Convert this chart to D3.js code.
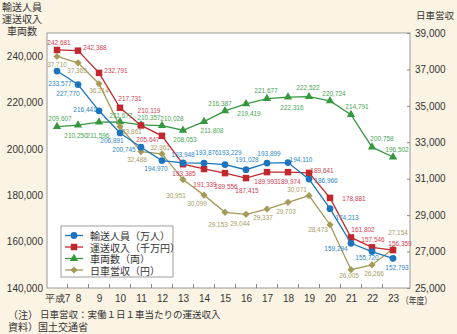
<!DOCTYPE html>
<html>
<head>
<meta charset="utf-8">
<script src="https://cdn.jsdelivr.net/npm/d3@7"></script>
<style>
  body { margin: 0; background: #fbf3e3; }
  svg { display: block; }
  text { font-family: "Liberation Sans", Arial, sans-serif; fill: #333; }
  .jp { font-family: "Noto Sans CJK JP", sans-serif; }
</style>
</head>
<body>
<div class="chart"></div>
<script>
// 年度（平成）
const years = [7, 8, 9, 10, 11, 12, 13, 14, 15, 16, 17, 18, 19, 20, 21, 22, 23];
const xLabels = ["平成7", "8", "9", "10", "11", "12", "13", "14", "15", "16", "17", "18", "19", "20", "21", "22", "23"];

// 輸送人員（万人）
const passengers = [233577, 227770, 216441, 206891, 200745, 194970, 193948, 193876, 193229, 191028, 193899, 194110, 186966, 174213, 159294, 155720, 152793];
// 運送収入（千万円）
const revenue = [242681, 242388, 232791, 217731, 210119, 205647, 193385, 191339, 189556, 187415, 189993, 189974, 189641, 178881, 161802, 157546, 156359];
// 車両数（両）
const vehicles = [209607, 210250, 211596, 211677, 210357, 210028, 208053, 211808, 216387, 219419, 221677, 222316, 222522, 220724, 214791, 200758, 196502];
// 日車営収（円）
const dailyRevenue = [37710, 37363, 36214, 33861, 32488, 32361, 30951, 30099, 29153, 29044, 29337, 29703, 30071, 28473, 26005, 26266, 27154];

const leftTicks = [140000, 160000, 180000, 200000, 220000, 240000];
const rightTicks = [25000, 27000, 29000, 31000, 33000, 35000, 37000, 39000];

// label offsets (dx, dy from point to label centre)
const offBlue = [[3,12],[-10,9],[-14,-1],[-8,7],[-17,2],[-6,8],[0,-9],[3,-11],[5,-12],[1,-10],[2,-10],[13,-3],[17,1],[17,9],[-15,5],[-5,6],[4,9]];
const offRed = [[2,-8],[17,-3],[17,-3],[10,-9],[8,-15],[-14,4],[1,9],[1,15],[1,13],[1,12],[-1,9],[1,9],[13,-3],[24,0],[12,-8],[1,-8],[7,-7]];
const offGreen = [[3,-8],[-2,10],[-1,13],[1,-7],[8,-8],[10,-7],[2,9],[8,9],[-5,-8],[3,9],[-1,-8],[4,10],[-1,-9],[4,-8],[6,-8],[10,-9],[4,-8]];
const offOlive = [[0,8],[-1,8],[0,7],[12,5],[-4,8],[-2,-7],[-7,16],[-7,8],[-7,12],[-6,9],[-4,8],[-2,9],[-12,-6],[-12,5],[-2,6],[2,8],[5,-16]];

const W = 457, H = 334;
const plot = {left: 47, right: 410, top: 33, bottom: 288};

const svg = d3.select(".chart").append("svg")
    .attr("width", W).attr("height", H)
    .attr("viewBox", [0, 0, W, H]);

svg.append("rect").attr("width", W).attr("height", H).attr("fill", "#fbf3e3");
svg.append("rect")
    .attr("x", plot.left).attr("y", plot.top)
    .attr("width", plot.right - plot.left).attr("height", plot.bottom - plot.top)
    .attr("fill", "#fff").attr("stroke", "#999").attr("stroke-width", 1);

const x = d3.scalePoint().domain(years).range([46.5, 403.5]).padding(0.5);
const xb = d3.scaleBand().domain(years).range([46.5, 403.5]);
const yL = d3.scaleLinear().domain([140000, 250000]).range([plot.bottom, plot.top]);
const yR = d3.scaleLinear().domain([25000, 39000]).range([plot.bottom, plot.top]);

// axes
const gx = svg.append("g")
    .attr("transform", `translate(0,${plot.bottom})`)
    .call(d3.axisBottom(x).tickSize(0).tickPadding(7).tickFormat((d, i) => xLabels[i]));
gx.select(".domain").remove();
gx.selectAll("text").attr("font-size", 10).attr("fill", "#333")
    .attr("font-family", (d, i) => i === 0 ? "Noto Sans CJK JP" : null);

svg.append("g").selectAll("line")
    .data(years.slice(1))
    .join("line")
    .attr("x1", d => xb(d)).attr("x2", d => xb(d))
    .attr("y1", plot.bottom - 4).attr("y2", plot.bottom)
    .attr("stroke", "#888");

svg.append("text").attr("class", "jp")
    .attr("x", 401).attr("y", 299.5)
    .attr("dominant-baseline", "central")
    .attr("font-size", 9.5)
    .attr("textLength", 31).attr("lengthAdjust", "spacingAndGlyphs")
    .text("（年度）");

const gl = svg.append("g")
    .attr("transform", `translate(${plot.left},0)`)
    .call(d3.axisLeft(yL).tickValues(leftTicks).tickFormat(d3.format(",")).tickSize(0).tickPadding(4));
gl.select(".domain").remove();
gl.selectAll("text").attr("font-size", 10).attr("fill", "#333");

const gr = svg.append("g")
    .attr("transform", `translate(${plot.right},0)`)
    .call(d3.axisRight(yR).tickValues(rightTicks).tickFormat(d3.format(",")).tickSizeInner(-3).tickSizeOuter(0).tickPadding(5));
gr.select(".domain").remove();
gr.selectAll("line").attr("stroke", "#888");
gr.selectAll("text").attr("font-size", 10).attr("fill", "#333");

// axis titles
svg.append("text").attr("class", "jp")
    .attr("x", 22).attr("text-anchor", "middle").attr("font-size", 10)
    .selectAll("tspan")
    .data(["輸送人員", "運送収入", "車両数"])
    .join("tspan")
    .attr("x", 22).attr("y", (d, i) => 10.5 + i * 12)
    .text(d => d);
svg.append("text").attr("class", "jp")
    .attr("x", 416).attr("y", 18.5).attr("font-size", 9.5)
    .text("日車営収");

// series
const series = [
  {name: "車両数（両）", values: vehicles, y: yL, color: "#35983f", label: "#4aa653", shape: "triangle", off: offGreen},
  {name: "日車営収（円）", values: dailyRevenue, y: yR, color: "#a59a57", label: "#a89d62", shape: "diamond", off: offOlive},
  {name: "運送収入（千万円）", values: revenue, y: yL, color: "#c1272d", label: "#d43d52", shape: "square", off: offRed},
  {name: "輸送人員（万人）", values: passengers, y: yL, color: "#1c75bc", label: "#2b88c8", shape: "circle", off: offBlue}
];

const symbolFor = s => {
  if (s === "circle") return d3.symbol(d3.symbolCircle, 36)();
  if (s === "square") return d3.symbol(d3.symbolSquare, 42)();
  if (s === "triangle") return d3.symbol(d3.symbolTriangle, 30)();
  return d3.symbol(d3.symbolSquare, 26)();
};
const rot = s => s === "diamond" ? " rotate(45)" : "";

const line = d3.line();

series.forEach(s => {
  const pts = years.map((yr, i) => [x(yr), s.y(s.values[i])]);
  svg.append("path")
      .attr("d", line(pts))
      .attr("fill", "none").attr("stroke", s.color).attr("stroke-width", 1.3);
  svg.append("g").selectAll("path")
      .data(pts)
      .join("path")
      .attr("d", symbolFor(s.shape))
      .attr("transform", d => `translate(${d[0]},${d[1]})${rot(s.shape)}`)
      .attr("fill", s.color);
});

// value labels
const fmt = d3.format(",");
series.forEach(s => {
  svg.append("g").selectAll("text")
      .data(s.values)
      .join("text")
      .attr("transform", (d, i) => `translate(${x(years[i]) + s.off[i][0]},${s.y(d) + s.off[i][1]}) scale(0.86,1)`)
      .attr("text-anchor", "middle")
      .attr("dominant-baseline", "central")
      .attr("font-size", 7.5)
      .style("fill", s.label)
      .text(d => fmt(d));
});

// legend
const legend = svg.append("g");
legend.append("rect")
    .attr("x", 61).attr("y", 226).attr("width", 112).attr("height", 51)
    .attr("fill", "#fff").attr("stroke", "#888").attr("stroke-width", 0.8);
const legendOrder = [3, 2, 0, 1];
legendOrder.forEach((k, j) => {
  const s = series[k];
  const ly = 235.5 + j * 11.5;
  legend.append("line")
      .attr("x1", 65).attr("x2", 83).attr("y1", ly).attr("y2", ly)
      .attr("stroke", s.color).attr("stroke-width", 1.3);
  legend.append("path")
      .attr("d", symbolFor(s.shape))
      .attr("transform", `translate(74,${ly})${rot(s.shape)}`)
      .attr("fill", s.color);
  legend.append("text").attr("class", "jp")
      .attr("x", 90).attr("y", ly)
      .attr("dominant-baseline", "central")
      .attr("font-size", 10)
      .text(s.name);
});

// notes
svg.append("text").attr("class", "jp")
    .attr("x", 8).attr("y", 314).attr("dominant-baseline", "central").attr("font-size", 10)
    .text("（注）");
svg.append("text").attr("class", "jp")
    .attr("x", 40).attr("y", 314).attr("dominant-baseline", "central").attr("font-size", 9.5)
    .text("日車営収：実働１日１車当たりの運送収入");
svg.append("text").attr("class", "jp")
    .attr("x", 8).attr("y", 326).attr("dominant-baseline", "central").attr("font-size", 10)
    .text("資料）国土交通省");
</script>
</body>
</html>
